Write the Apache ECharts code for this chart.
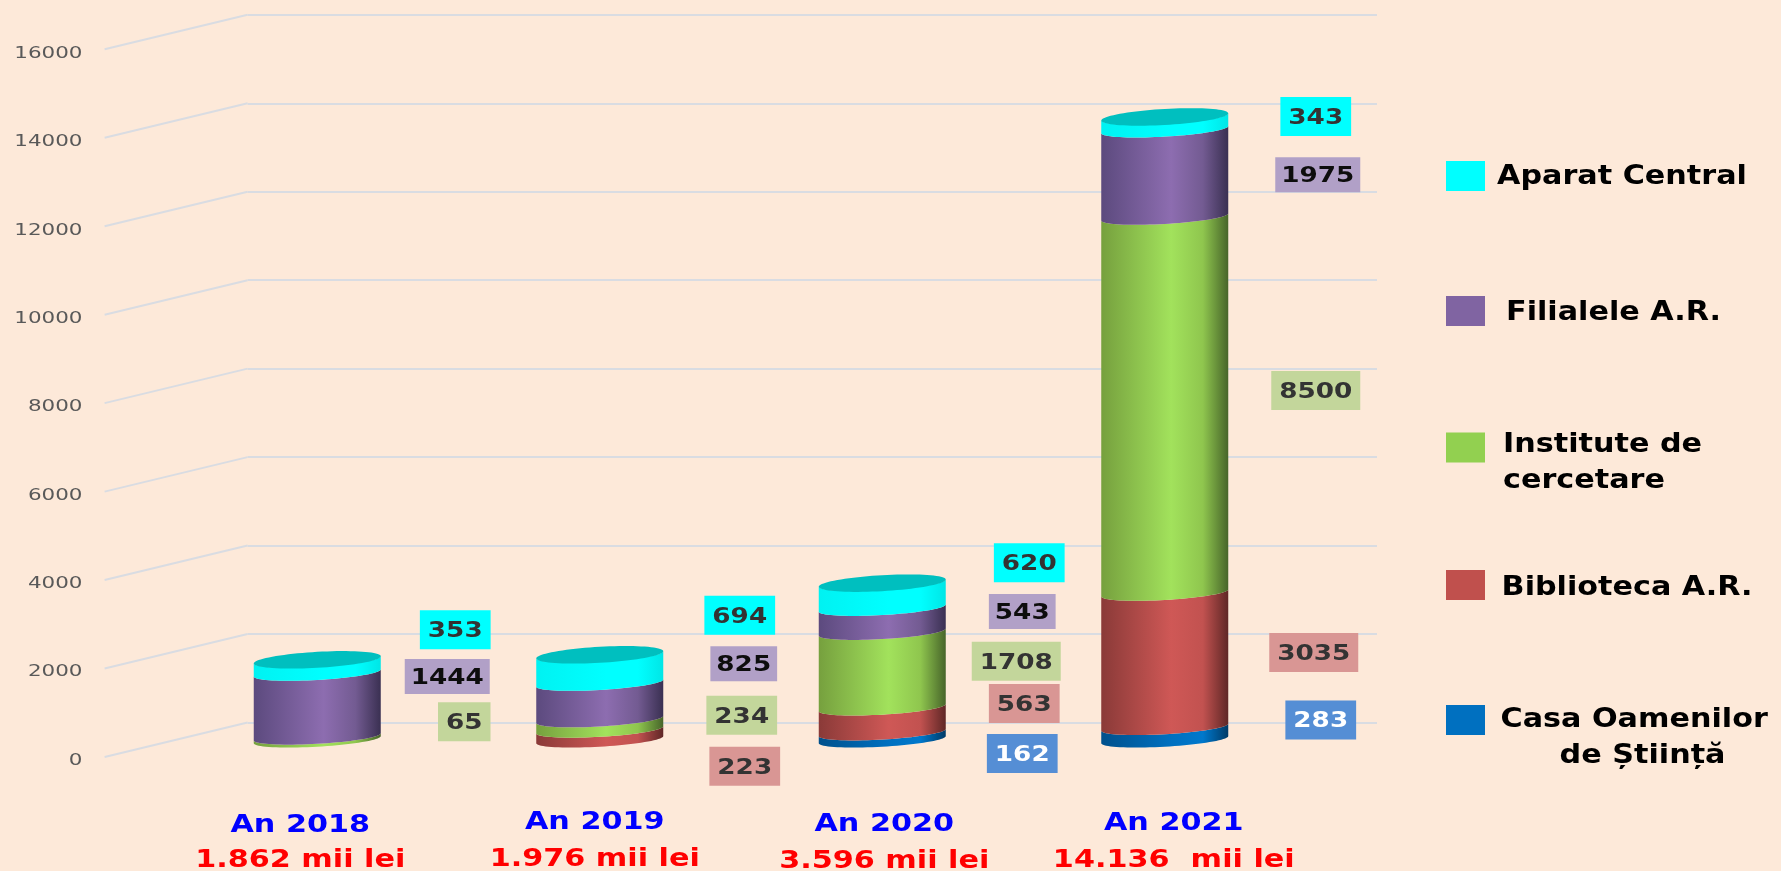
<!DOCTYPE html>
<html>
<head>
<meta charset="utf-8">
<style>html,body{margin:0;padding:0;background:#FDE9D9;overflow:hidden}#c{width:1781px;height:871px}</style>
<script src="https://cdn.jsdelivr.net/npm/echarts@6/dist/echarts.min.js"></script>
</head>
<body>
<div id="c"></div>
<script>
// ---- data ----
const years = ['An 2018', 'An 2019', 'An 2020', 'An 2021'];
const totals = ['1.862 mii lei', '1.976 mii lei', '3.596 mii lei', '14.136  mii lei'];
const yTicks = [0, 2000, 4000, 6000, 8000, 10000, 12000, 14000, 16000];
const casa = [0, 0, 162, 283];
const biblioteca = [0, 223, 563, 3035];
const institute = [65, 234, 1708, 8500];
const filiale = [1444, 825, 543, 1975];
const aparat = [353, 694, 620, 343];
const names = ['Casa Oamenilor de Știință', 'Biblioteca A.R.', 'Institute de cercetare', 'Filialele A.R.', 'Aparat Central'];
const legendTexts = ['Casa Oamenilor', 'de Știință', 'Biblioteca A.R.', 'Institute de', 'cercetare', 'Filialele A.R.', 'Aparat Central'];

// ---- layout and style ----
const values = [casa, biblioteca, institute, filiale, aparat];
const colors = ['#0070C0', '#C0504D', '#92D050', '#8064A2', '#00FFFF'];
const bodyStops = [
  ['#00508c', '#0070c0', '#0078cc', '#003a66'],
  ['#8a3a38', '#cf5856', '#c25250', '#5f2726'],
  ['#76a03e', '#a2e25c', '#8fc64e', '#47652a'],
  ['#5c4a7e', '#8d6db0', '#735b92', '#3a3052'],
  ['#00f2f2', '#00ffff', '#00ffff', '#00e6e6']
];
const labelBg = ['#558ED5', '#D99694', '#C3D69B', '#B1A0C7', '#00FFFF'];
const labelInk = ['#ffffff', '#333333', '#333333', '#0d0d0d', '#333333'];
const labelBoxH = [39, 39, 39, 35, 39];
const labelBoxPad = [8, 8, 8, 6, 8];
const digitW = 18.25;
// label box offset from the segment's middle point, per series then per year
const labelOffsets = [
  [null, null, [140, 17], [156, -14]],
  [null, [145, 31], [142, -17], [149, -8]],
  [[147, -17], [142, -10], [134, -9], [151, -15]],
  [[130, -29], [144, -38], [140, -9], [153, 1]],
  [[138, -36], [140, -53], [147, -32], [151, -6]]
];
const yearShift = [-17, -5, 2, 9];
const yearDrop = [[86, 121], [83, 120], [85, 122], [84, 121]];
const legendY = [720, 585, 447.5, 311, 176];
const legendTextPos = [[1500.5, 720.5], [1559.6, 756], [1501.6, 588.5], [1503, 445], [1503, 481.5], [1506, 313.5], [1497, 177.5]];
const halfWidth = 63.5, ellipseB = 7, ellipseShear = 3.6, capDrop = 2.5, capB = 8;
const font = '"DejaVu Sans"';
const stretch = 1.25;

function arc(cx, cy, from, to, n, b) {
  const pts = [];
  for (let i = 0; i <= n; i++) {
    const t = from + (to - from) * i / n;
    pts.push([cx + halfWidth * Math.cos(t), cy + (b || ellipseB) * Math.sin(t) - ellipseShear * Math.cos(t)]);
  }
  return pts;
}

function cylinderSeries(si) {
  const data = [];
  years.forEach((_, yi) => {
    const v = values[si][yi];
    if (!v) return;
    let start = 0;
    for (let k = 0; k < si; k++) start += values[k][yi];
    data.push([yi, start, start + v, v]);
  });
  const isTop = si === values.length - 1;
  return {
    type: 'custom', name: names[si], coordinateSystem: 'cartesian2d', xAxisIndex: 2, yAxisIndex: 2,
    itemStyle: { color: colors[si] }, encode: { x: 0, y: [1, 2] }, data, z: 5, silent: true,
    renderItem(params, api) {
      const yi = api.value(0), s = api.value(1), e = api.value(2), v = api.value(3);
      const b = api.coord([yi, s]), t = api.coord([yi, e]), m = api.coord([yi, (s + e) / 2]);
      const stops = bodyStops[si];
      const topY = t[1] + (isTop ? capDrop : 0);
      const pts = arc(b[0], b[1], Math.PI, 0, 40).concat(arc(t[0], topY, 0, Math.PI, 40));
      const children = [{
        type: 'polygon', shape: { points: pts },
        style: { fill: { type: 'linear', x: 0, y: 0, x2: 1, y2: 0, colorStops: [
          { offset: 0, color: stops[0] }, { offset: 0.55, color: stops[1] },
          { offset: 0.8, color: stops[2] }, { offset: 1, color: stops[3] }] } }
      }];
      if (isTop) {
        children.push({ type: 'polygon', shape: { points: arc(t[0], topY, 0, 2 * Math.PI, 80, capB) }, style: { fill: '#00BFBF' } });
      }
      const off = labelOffsets[si][yi];
      const txt = String(v);
      const bw = txt.length * digitW + 2 * labelBoxPad[si], bh = labelBoxH[si];
      const lx = m[0] + off[0], ly = m[1] + off[1];
      children.push({
        type: 'rect', z2: 19, shape: { x: lx - bw / 2, y: ly - bh / 2 + 0.5, width: bw, height: bh },
        style: { fill: labelBg[si] }
      });
      children.push({
        type: 'text', x: lx, y: ly + 2.5, z2: 20, scaleX: stretch,
        style: { text: txt, font: 'bold 21px ' + font, fill: labelInk[si], align: 'center', verticalAlign: 'middle' }
      });
      return { type: 'group', children };
    }
  };
}

const option = {
  backgroundColor: '#FDE9D9',
  animation: false,
  color: colors,
  legend: names.map((n, i) => ({
    data: [n], orient: 'horizontal', left: 1446, top: legendY[i] - 15, padding: 0,
    itemWidth: 39, itemHeight: 30, icon: 'rect', selectedMode: false,
    itemStyle: { borderWidth: 0 }, formatter: () => ' '
  })),
  grid: [
    { left: 104.5, width: 1130, top: 50, height: 707 },
    { left: 247.6, width: 1129.4, top: 14.8, height: 707.7 },
    { left: 176, width: 1130, top: 32, height: 707.7 }
  ],
  xAxis: [
    { gridIndex: 0, type: 'category', data: years, show: false },
    { gridIndex: 1, type: 'category', data: years, show: false },
    { gridIndex: 2, type: 'category', data: years, axisLine: { show: false }, axisTick: { show: false }, axisLabel: { show: false } }
  ],
  yAxis: [
    {
      gridIndex: 0, type: 'value', min: 0, max: 16000, interval: 2000,
      axisLine: { show: false }, axisTick: { show: false }, splitLine: { show: false }, axisLabel: { show: false }
    },
    {
      gridIndex: 1, type: 'value', min: 0, max: 16000, interval: 2000,
      axisLine: { show: false }, axisTick: { show: false }, axisLabel: { show: false },
      splitLine: { show: true, lineStyle: { color: '#D9DCE2', width: 2 } }
    },
    { gridIndex: 2, type: 'value', min: 0, max: 16000, interval: 2000, show: false, splitLine: { show: false } }
  ],
  graphic: legendTexts.map((t, i) => ({
    type: 'text', x: legendTextPos[i][0], y: legendTextPos[i][1], scaleX: 1.14,
    style: { text: t, font: 'bold 26.5px ' + font, fill: '#000000', verticalAlign: 'middle' }
  })),
  series: [
    {
      type: 'custom', coordinateSystem: 'cartesian2d', xAxisIndex: 1, yAxisIndex: 1, silent: true, z: 1,
      data: yTicks.map(v => [0, v]), encode: { x: 0, y: 1 },
      renderItem(params, api) {
        const p = api.coord([0, api.value(1)]);
        const x = params.coordSys.x;
        return { type: 'line', shape: { x1: x, y1: p[1], x2: x - 143, y2: p[1] + 34.5 }, style: { stroke: '#D9DCE2', lineWidth: 2 } };
      }
    },
    {
      type: 'custom', coordinateSystem: 'cartesian2d', xAxisIndex: 0, yAxisIndex: 0, silent: true, z: 6,
      data: yTicks.map(v => [0, v]), encode: { x: 0, y: 1 },
      renderItem(params, api) {
        const p = api.coord([0, api.value(1)]);
        return {
          type: 'text', x: params.coordSys.x - 22, y: p[1] + 3.5, scaleX: 1.3,
          style: { text: String(api.value(1)), font: '16.5px ' + font, fill: '#595959', align: 'right', verticalAlign: 'middle' }
        };
      }
    },
    {
      type: 'custom', coordinateSystem: 'cartesian2d', xAxisIndex: 2, yAxisIndex: 2, silent: true, z: 6,
      data: years.map((_, i) => [i, 0]), encode: { x: 0, y: 1 },
      renderItem(params, api) {
        const i = api.value(0), p = api.coord([i, 0]);
        const mk = (text, dy, fill) => ({
          type: 'text', x: p[0] + yearShift[i], y: p[1] + dy, scaleX: 1.26,
          style: { text, font: 'bold 24px ' + font, fill, align: 'center', verticalAlign: 'middle' }
        });
        return { type: 'group', children: [mk(years[i], yearDrop[i][0], '#0000FF'), mk(totals[i], yearDrop[i][1], '#FF0000')] };
      }
    }
  ].concat(names.map((_, i) => cylinderSeries(i)))
};
const chart = echarts.init(document.getElementById('c'), null, { renderer: 'canvas' });
chart.setOption(option);
</script>
</body>
</html>
